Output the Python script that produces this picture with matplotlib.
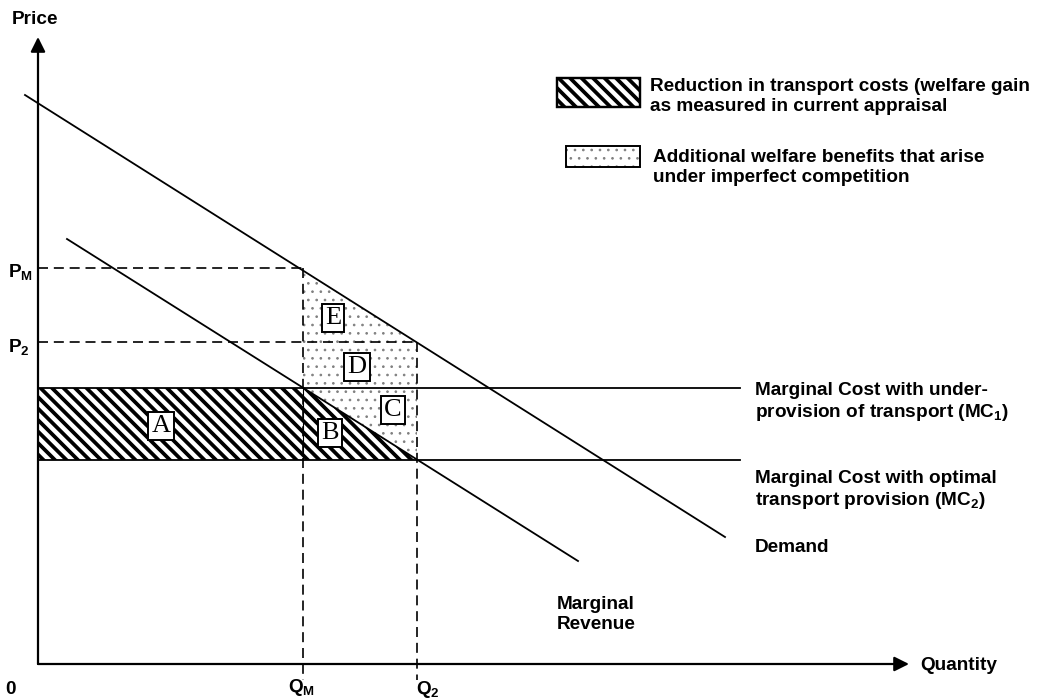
import numpy as np
import matplotlib.pyplot as plt
from matplotlib.patches import Polygon, Rectangle

plt.rcParams["font.family"] = ["Liberation Sans", "DejaVu Sans"]
plt.rcParams["font.weight"] = "bold"
plt.rcParams["mathtext.fontset"] = "custom"
plt.rcParams["mathtext.rm"] = "Liberation Sans:bold"
plt.rcParams["mathtext.bf"] = "Liberation Sans:bold"
plt.rcParams["hatch.linewidth"] = 0.7

# Curves (quantity, price), origin at the axes crossing
demand_q = [-13, 687]
demand_p = [569, 127]
mr_q = [29, 540]
mr_p = [425, 103]
mc1 = 276
mc2 = 204
mc_end = 702
q_m = 265
q_2 = 379
p_m = 396
p_2 = 322
region_labels = ["A", "B", "C", "D", "E"]
region_q = [123, 292, 355, 319, 295]
region_p = [238, 231, 254, 297, 346]


def demand(q):
    return np.interp(q, demand_q, demand_p)


def mr(q):
    return np.interp(q, mr_q, mr_p)


def stripes(ax, patch, spacing=11.5, lw=2.7):
    # diagonal "\\\" stripes clipped to a patch
    for c in np.arange(-400, 1400, spacing):
        line, = ax.plot([-100, 1100], [c + 100, c - 1100], color="black",
                        lw=lw, solid_capstyle="butt")
        line.set_clip_path(patch)


fig = plt.figure(figsize=(10.54, 7), dpi=100)
ax = fig.add_axes([0, 0, 1, 1])
ax.set_xlim(-38, 1016)
ax.set_ylim(-36, 664)
ax.axis("off")

# hatched area A + B
q_mr_mc2 = np.interp(mc2, mr_p[::-1], mr_q[::-1])
hatched = Polygon([(0, mc2), (0, mc1), (q_m, mc1), (q_mr_mc2, mc2)],
                  closed=True, fc="white", ec="none")
ax.add_patch(hatched)
stripes(ax, hatched)

# dotted area C + D + E
dotted = Polygon([(q_m, demand(q_m)), (q_2, demand(q_2)), (q_2, mc2),
                  (q_mr_mc2, mc2), (q_m, mr(q_m))],
                 closed=True, fc="none", ec="#808080", lw=0, hatch="..")
ax.add_patch(dotted)

# curves
ax.plot(demand_q, demand_p, color="black", lw=1.3)
ax.plot(mr_q, mr_p, color="black", lw=1.3)
ax.plot([0, mc_end], [mc1, mc1], color="black", lw=1.3)
ax.plot([0, mc_end], [mc2, mc2], color="black", lw=1.3)

# dashed guides
dash = dict(color="black", lw=1.2, ls=(0, (6, 3.5)))
ax.plot([0, q_m], [p_m, p_m], **dash)
ax.plot([0, q_2], [p_2, p_2], **dash)
ax.plot([q_m, q_m], [p_m, -16], **dash)
ax.plot([q_2, q_2], [p_2, -16], **dash)
ax.plot([q_m, q_m], [mc2, mc1], color="black", lw=0.8)

# axes with arrows
arrow = dict(arrowstyle="-|>", lw=1.6, color="black", mutation_scale=22,
             shrinkA=0, shrinkB=0)
ax.annotate("", xy=(0, 627), xytext=(0, 0), arrowprops=arrow)
ax.annotate("", xy=(871, 0), xytext=(0, 0), arrowprops=arrow)

# region letters
for lab, q, p in zip(region_labels, region_q, region_p):
    ax.text(q, p, lab, family="Liberation Serif", fontweight="normal",
            fontsize=19, ha="center", va="center",
            bbox=dict(boxstyle="square,pad=0.12", fc="white", ec="black", lw=1.4))

fs = 13.7
ax.text(-26, 645, "Price", fontsize=fs, va="center")
ax.text(882, -1, "Quantity", fontsize=fs, va="center")
ax.text(-33, -25, "0", fontsize=fs, va="center")
ax.text(-30, 391, r"P$_\mathregular{M}$", fontsize=fs, va="center")
ax.text(-30, 316, r"P$_\mathregular{2}$", fontsize=fs, va="center")
ax.text(q_m - 15, -23, r"Q$_\mathregular{M}$", fontsize=fs, va="center")
ax.text(q_2 - 1, -26, r"Q$_\mathregular{2}$", fontsize=fs, va="center")

lsp = 1.2
ax.text(717, mc1 + 6, "Marginal Cost with under-\nprovision of transport (MC$_\\mathregular{1}$)",
        fontsize=fs, va="top", linespacing=lsp)
ax.text(717, 194, "Marginal Cost with optimal\ntransport provision (MC$_\\mathregular{2}$)",
        fontsize=fs, va="top", linespacing=lsp)
ax.text(717, 116, "Demand", fontsize=fs, va="center")
ax.text(519, 68, "Marginal\nRevenue", fontsize=fs, va="top", linespacing=lsp)

# legend
leg1 = Rectangle((519, 557), 83, 29, fc="white", ec="black", lw=1.6)
ax.add_patch(leg1)
stripes(ax, leg1)
ax.add_patch(Rectangle((519, 557), 83, 29, fc="none", ec="black", lw=1.6))
ax.text(612, 586, "Reduction in transport costs (welfare gain\nas measured in current appraisal",
        fontsize=fs, va="top", linespacing=lsp)
ax.add_patch(Rectangle((528, 497), 74, 21, fc="white", ec="#808080", lw=0,
                       hatch=".."))
ax.add_patch(Rectangle((528, 497), 74, 21, fc="none", ec="black", lw=1.4))
ax.text(615, 515, "Additional welfare benefits that arise\nunder imperfect competition",
        fontsize=fs, va="top", linespacing=lsp)

fig.savefig("out.png", dpi=100)
